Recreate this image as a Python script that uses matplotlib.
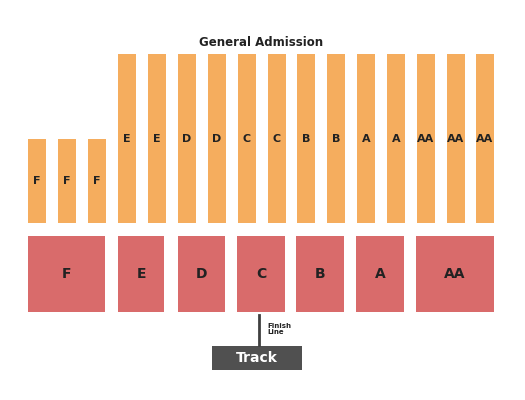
import matplotlib
matplotlib.use("Agg")
import matplotlib.pyplot as plt
from matplotlib.patches import Rectangle

# general admission strips (label, left edge)
ga_labels = ["F", "F", "F", "E", "E", "D", "D", "C", "C", "B", "B", "A", "A", "AA", "AA", "AA"]
ga_left = [28, 58, 88, 118, 148, 178, 208, 238, 268, 297, 327, 357, 387, 417, 447, 476]
ga_top = [139, 139, 139] + [54] * 13
ga_bottom = 223
ga_width = 18

# reserved blocks (label, left, right)
blk_labels = ["F", "E", "D", "C", "B", "A", "AA"]
blk_left = [28, 118, 178, 237, 296, 356, 416]
blk_right = [105, 164, 225, 285, 344, 404, 494]
blk_top, blk_bottom = 236, 312

orange = "#F5AD5E"
red = "#D96B6B"

fig = plt.figure(figsize=(5.25, 4), dpi=100)
ax = fig.add_axes([0, 0, 1, 1])
ax.set_xlim(0, 525)
ax.set_ylim(400, 0)
ax.axis("off")

for lab, x, top in zip(ga_labels, ga_left, ga_top):
    ax.add_patch(Rectangle((x, top), ga_width, ga_bottom - top, color=orange, lw=0))
    ax.text(x + ga_width / 2, (top + ga_bottom) / 2 + (0 if top > 100 else 0), lab,
            ha="center", va="center", fontsize=8, fontweight="bold", color="#222222")

for lab, l, r in zip(blk_labels, blk_left, blk_right):
    ax.add_patch(Rectangle((l, blk_top), r - l, blk_bottom - blk_top, color=red, lw=0))
    ax.text((l + r) / 2, (blk_top + blk_bottom) / 2, lab, ha="center", va="center",
            fontsize=10, fontweight="bold", color="#222222")

ax.text(261, 42, "General Admission", ha="center", va="center", fontsize=8.5,
        fontweight="bold", color="#222222")

ax.plot([259, 259], [315, 345], color="#404040", lw=2)
ax.text(267, 329, "Finish\nLine", ha="left", va="center", fontsize=5,
        fontweight="bold", color="#222222", linespacing=1.1)

ax.add_patch(Rectangle((212, 346), 90, 24, color="#505050", lw=0))
ax.text(257, 358, "Track", ha="center", va="center", fontsize=10,
        fontweight="bold", color="white")

fig.savefig("out.png", dpi=100)
